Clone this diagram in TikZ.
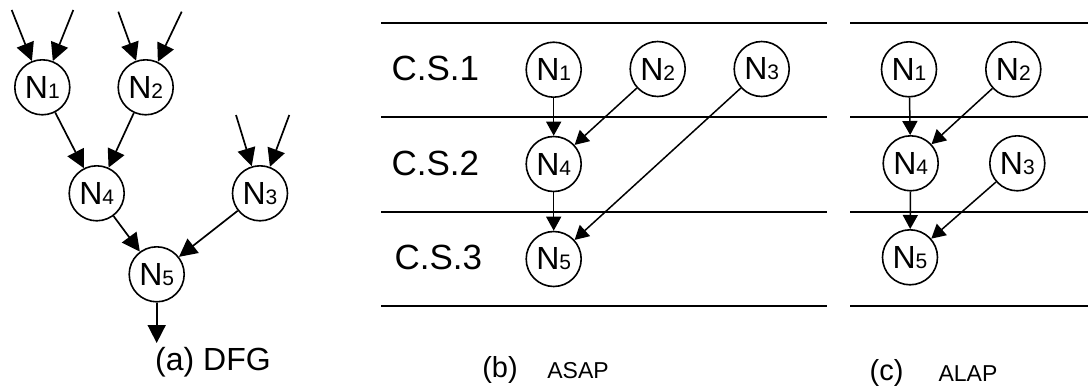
\documentclass[tikz,border=0pt]{standalone}
\usepackage{fontspec}
\setmainfont{Liberation Sans}
\usetikzlibrary{arrows.meta}
\newcommand{\nlab}[1]{N{\fontsize{21}{21}\selectfont #1}}
\begin{document}
\begin{tikzpicture}[x=1pt,y=-1pt,
  opnode/.style={draw,circle,line width=1.6pt,minimum size=55pt,inner sep=0pt,
    font=\fontsize{32}{32}\selectfont},
  bigedge/.style={line width=1.7pt,-{Triangle[length=18pt,width=18pt]}},
  edge/.style={line width=1.5pt,-{Triangle[length=14pt,width=15pt]}},
  stepline/.style={line width=1.7pt},
  cslab/.style={font=\fontsize{35}{35}\selectfont,anchor=west},
  caption/.style={font=\fontsize{32}{32}\selectfont},
  capsmall/.style={font=\fontsize{23}{23}\selectfont}]
\useasboundingbox (0,0) rectangle (1088,388);

% ---- (a) data-flow graph ----
\node[opnode] (a1) at (42.3,87.3) {\nlab{1}};
\node[opnode] (a2) at (145.7,87.3) {\nlab{2}};
\node[opnode] (a4) at (96.7,193.3) {\nlab{4}};
\node[opnode] (a3) at (260,193.3) {\nlab{3}};
\node[opnode] (a5) at (156.7,274.3) {\nlab{5}};
\coordinate (i1a) at (11.7,10);  \coordinate (i1b) at (73.3,10);
\coordinate (i2a) at (118.3,11.7); \coordinate (i2b) at (181.7,11.7);
\coordinate (i3a) at (236,115);  \coordinate (i3b) at (289.3,115);
\coordinate (out) at (156.7,343);
\draw[bigedge] (i1a) -- (a1);
\draw[bigedge] (i1b) -- (a1);
\draw[bigedge] (i2a) -- (a2);
\draw[bigedge] (i2b) -- (a2);
\draw[bigedge] (i3a) -- (a3);
\draw[bigedge] (i3b) -- (a3);
\draw[bigedge] (a1) -- (a4);
\draw[bigedge] (a2) -- (a4);
\draw[bigedge] (a4) -- (a5);
\draw[bigedge] (a3) -- (a5);
\draw[bigedge] (a5) -- (out);
\node[caption] (capa) at (213,362) {(a) DFG};

% ---- (b) ASAP schedule ----
\foreach \y in {22.7,116.7,211.7,306} \draw[stepline] (381,\y) -- (827,\y);
\node[cslab] (cs1) at (388,68.3) {C.S.1};
\node[cslab] (cs2) at (388,163.3) {C.S.2};
\node[cslab] (cs3) at (391,257) {C.S.3};
\node[opnode] (b1) at (553.7,69.7) {\nlab{1}};
\node[opnode] (b2) at (657.7,69) {\nlab{2}};
\node[opnode] (b3) at (761.7,69) {\nlab{3}};
\node[opnode] (b4) at (553.7,164) {\nlab{4}};
\node[opnode] (b5) at (553.7,259) {\nlab{5}};
\draw[edge] (b1) -- (b4);
\draw[edge] (b2) -- (b4);
\draw[edge] (b4) -- (b5);
\draw[edge] (b3) -- (b5);
\node[caption,font=\fontsize{29}{29}\selectfont] (capb) at (500,370) {(b)};
\node[capsmall] (capbt) at (578,371) {ASAP};

% ---- (c) ALAP schedule ----
\foreach \y in {22.7,116.7,211.7,306} \draw[stepline] (850,\y) -- (1088,\y);
\node[opnode] (c1) at (909,69.3) {\nlab{1}};
\node[opnode] (c2) at (1013.3,69.3) {\nlab{2}};
\node[opnode] (c4) at (910.7,163.3) {\nlab{4}};
\node[opnode] (c3) at (1017.3,163.3) {\nlab{3}};
\node[opnode] (c5) at (910,257.3) {\nlab{5}};
\draw[edge] (c1) -- (c4);
\draw[edge] (c2) -- (c4);
\draw[edge] (c4) -- (c5);
\draw[edge] (c3) -- (c5);
\node[caption,font=\fontsize{29}{29}\selectfont] (capc) at (886.5,373) {(c)};
\node[capsmall] (capct) at (968,374) {ALAP};
\end{tikzpicture}
\end{document}
